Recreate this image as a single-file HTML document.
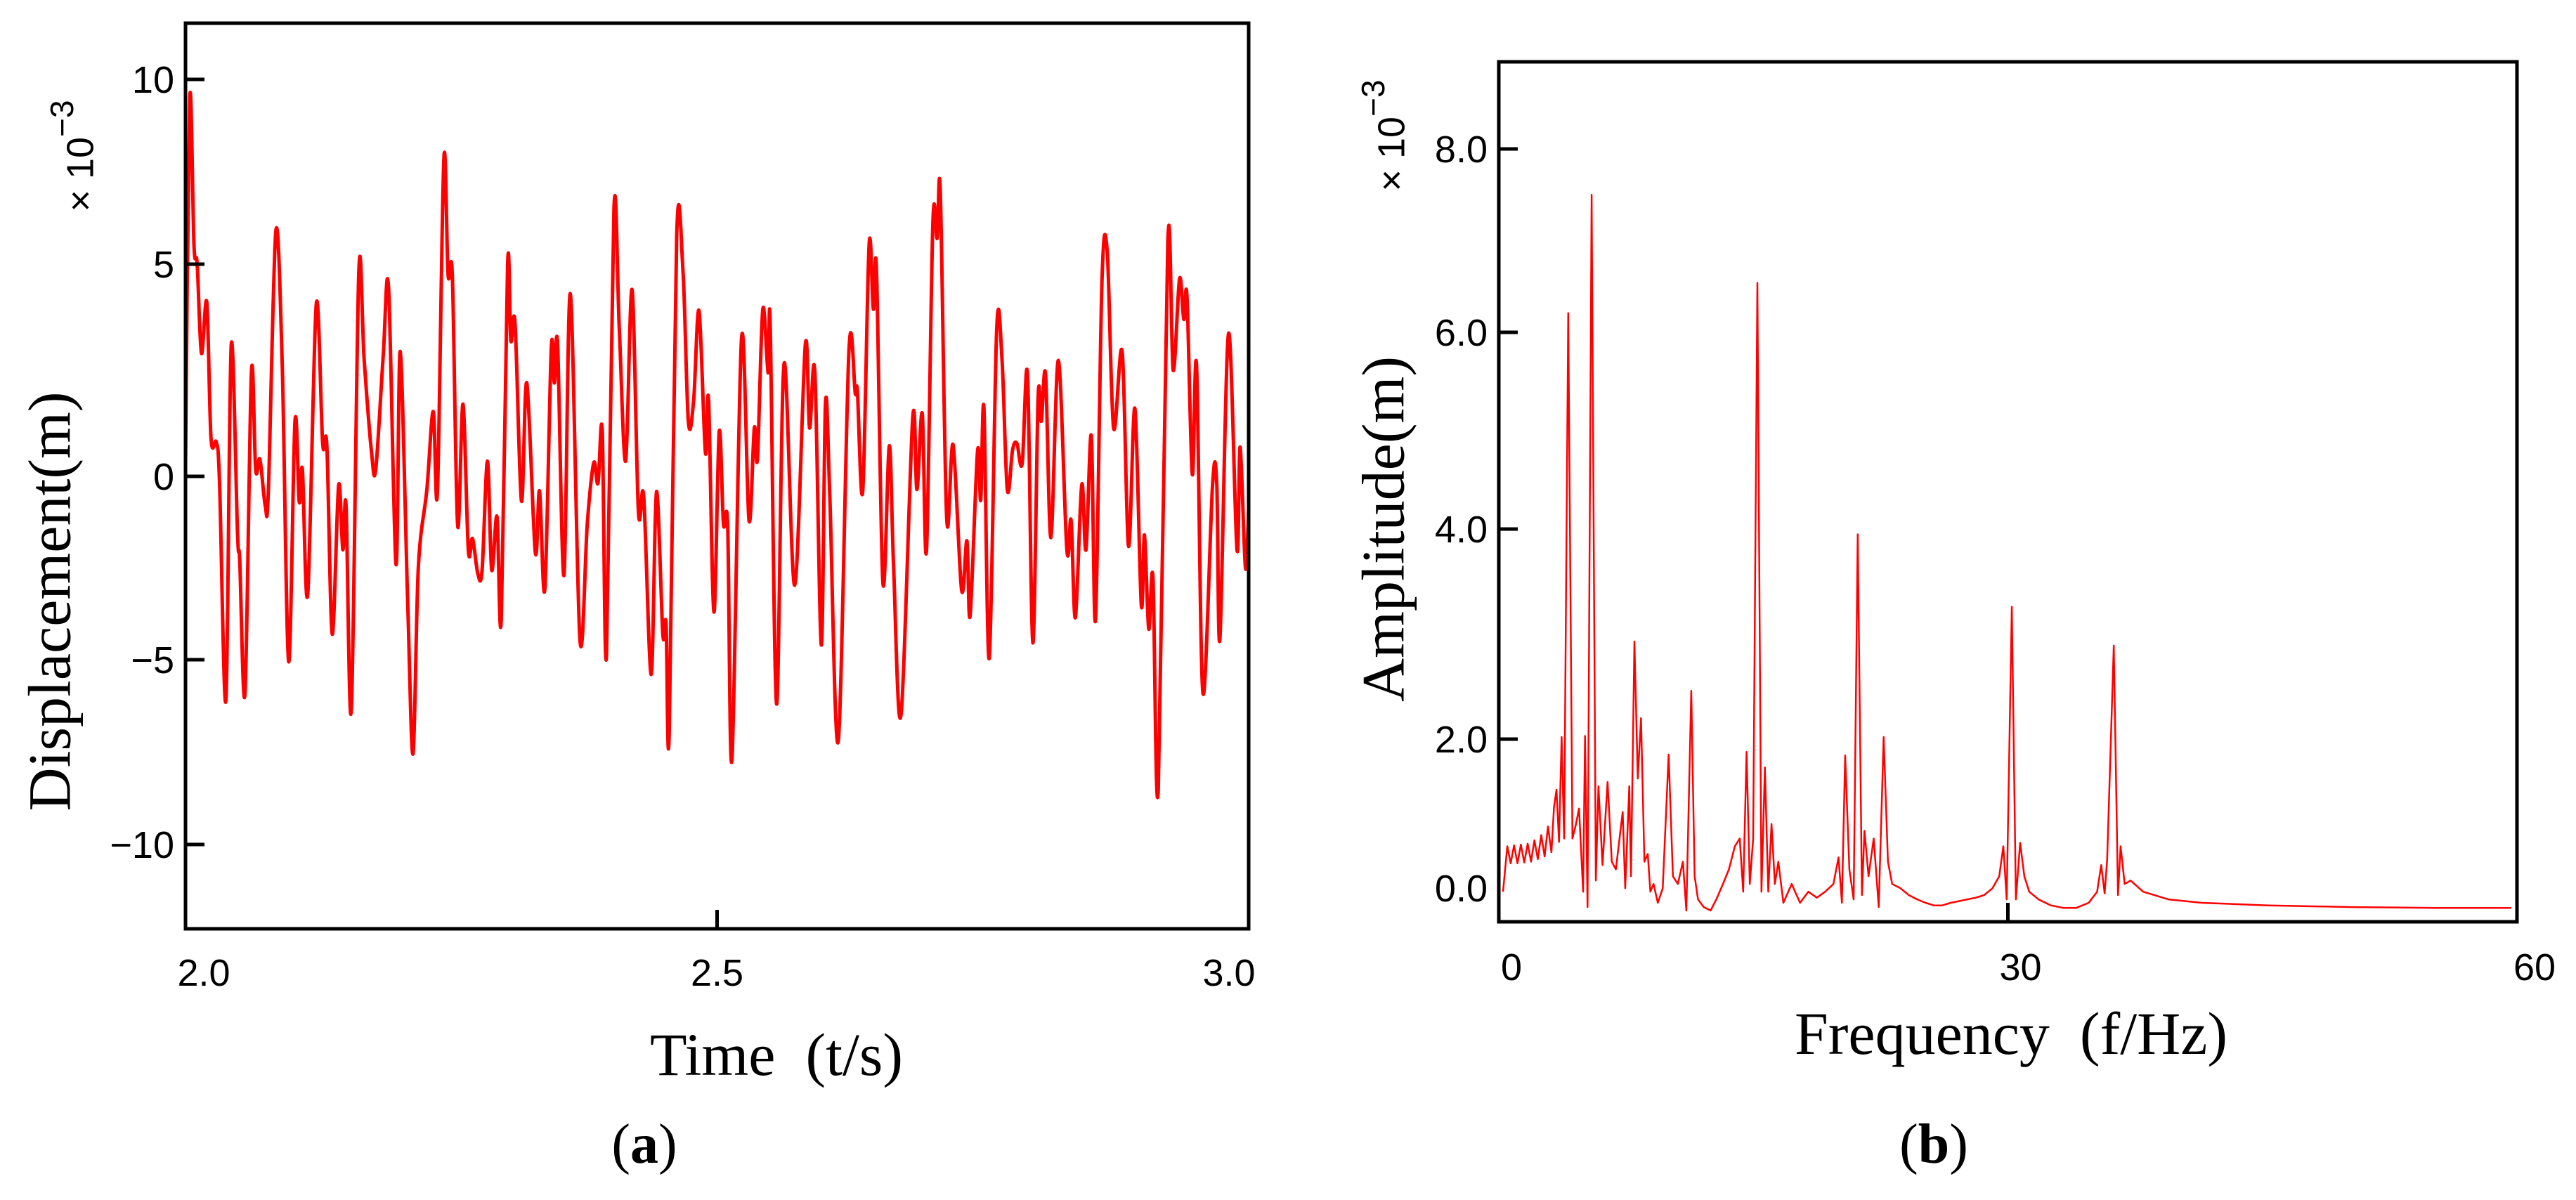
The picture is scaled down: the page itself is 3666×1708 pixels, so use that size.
<!DOCTYPE html>
<html><head><meta charset="utf-8">
<style>
html,body{margin:0;padding:0;background:#fff;}
svg{display:block;}
.tick{font-family:"Liberation Sans",sans-serif;font-size:54px;fill:#000;}
.title{font-family:"Liberation Serif",serif;font-size:86px;fill:#000;white-space:pre;}
.cap{font-family:"Liberation Serif",serif;font-size:80px;fill:#000;}
.mult{font-family:"Liberation Sans",sans-serif;font-size:54px;fill:#000;}
</style></head>
<body>
<svg id="fig" width="3666" height="1708" viewBox="0 0 3666 1708" xmlns="http://www.w3.org/2000/svg">
  <g id="panelA"></g>
  <g id="panelB"></g>
  <text class="title" x="80" y="856" text-anchor="middle" transform="rotate(-90 80 856)" dominant-baseline="middle">Displacement(m)</text>
  <text class="mult" x="118" y="222" text-anchor="middle" transform="rotate(-90 118 222)" dominant-baseline="middle">× 10<tspan dy="-26" font-size="46">−3</tspan></text>
  <text class="title" x="1105" y="1530" text-anchor="middle">Time&#160;&#160;(t/s)</text>
  <text class="cap" x="917" y="1655" text-anchor="middle">(<tspan font-weight="bold">a</tspan>)</text>
  <text class="title" x="1978" y="753" text-anchor="middle" transform="rotate(-90 1978 753)" dominant-baseline="middle">Amplitude(m)</text>
  <text class="mult" x="1984" y="193" text-anchor="middle" transform="rotate(-90 1984 193)" dominant-baseline="middle">× 10<tspan dy="-26" font-size="46">−3</tspan></text>
  <text class="title" x="2862" y="1500" text-anchor="middle">Frequency&#160;&#160;(f/Hz)</text>
  <text class="cap" x="2752" y="1655" text-anchor="middle">(<tspan font-weight="bold">b</tspan>)</text>
</svg>
<script>
// ---- Panel (a) data ----
const timeValues = [2.000,2.004,2.008,2.011,2.015,2.020,2.024,2.029,2.032,2.038,2.043,2.049,2.051,2.056,2.062,2.066,2.070,2.075,2.078,2.085,2.091,2.097,2.103,2.107,2.110,2.115,2.123,2.129,2.133,2.138,2.144,2.148,2.151,2.156,2.163,2.168,2.175,2.179,2.186,2.191,2.198,2.202,2.209,2.214,2.219,2.227,2.233,2.237,2.243,2.247,2.251,2.256,2.261,2.266,2.270,2.275,2.279,2.284,2.288,2.293,2.297,2.303,2.306,2.310,2.316,2.321,2.329,2.333,2.338,2.344,2.347,2.350,2.356,2.362,2.371,2.378,2.384,2.388,2.392,2.396,2.403,2.408,2.414,2.420,2.426,2.431,2.438,2.443,2.449,2.452,2.455,2.462,2.468,2.473,2.478,2.483,2.489,2.492,2.497,2.502,2.506,2.510,2.514,2.523,2.530,2.535,2.538,2.543,2.548,2.550,2.556,2.563,2.573,2.583,2.587,2.592,2.598,2.602,2.606,2.614,2.624,2.630,2.632,2.637,2.643,2.647,2.650,2.656,2.662,2.666,2.673,2.684,2.688,2.693,2.697,2.703,2.707,2.710,2.716,2.722,2.730,2.735,2.738,2.745,2.748,2.751,2.756,2.763,2.768,2.773,2.778,2.782,2.787,2.792,2.797,2.802,2.805,2.809,2.814,2.821,2.829,2.833,2.837,2.843,2.847,2.852,2.856,2.862,2.867,2.873,2.881,2.887,2.893,2.899,2.902,2.906,2.910,2.915,2.924,2.929,2.935,2.939,2.942,2.947,2.951,2.957,2.966,2.970,2.973,2.981,2.989,2.992,2.997,3.000];
const displacementValues = [0.3,9.5,5.5,5.0,2.9,4.1,0.9,0.8,-0.15,-6.1,3.1,-1.6,-2.3,-5.9,2.45,0.15,0.4,-0.8,-0.35,5.9,2.6,-5.05,1.3,-0.7,0.15,-3.2,4.06,0.78,0.7,-4.3,-0.25,-2.0,-0.8,-6.35,4.8,2.76,0.56,0.18,2.85,4.44,-2.4,2.94,-3.43,-7.55,-2.5,-0.36,1.53,-0.4,7.86,4.75,4.7,-1.34,1.7,-2.0,-1.7,-2.66,-2.55,0.36,-2.55,-1.1,-3.9,5.0,3.2,3.6,-0.67,2.2,-2.07,-0.4,-3.07,3.0,2.2,3.1,-2.7,4.3,-4.45,-1.26,0.32,-0.19,1.08,-4.9,6.5,3.5,0.36,4.4,-0.94,-0.56,-5.4,-0.42,-4.3,-4.0,-7.0,5.75,4.8,1.3,1.8,3.9,0.56,1.8,-3.7,1.05,-1.3,-1.36,-7.7,3.25,-1.2,1.14,0.42,3.94,2.44,3.57,-6.2,2.65,-2.97,3.1,1.14,2.44,-4.6,1.73,-0.52,-7.2,2.94,1.95,2.0,-0.4,5.54,3.94,4.84,-2.9,0.72,-2.45,-6.5,1.37,-0.36,1.48,-2.0,6.12,5.7,6.95,-1.15,0.74,-3.1,-1.76,-3.8,0.6,-0.65,1.6,-4.96,3.45,2.76,-0.36,0.63,0.78,0.3,2.4,-4.54,1.86,1.3,2.4,-1.67,2.73,-2.0,-1.2,-3.85,-0.23,-2.0,0.96,-3.9,4.57,5.33,1.14,2.94,-1.9,1.6,-3.5,-1.6,-4.16,-2.76,-8.5,5.64,2.5,4.66,3.7,4.24,0.05,2.6,-5.9,-0.25,-0.2,-4.43,3.36,-2.0,0.69,-2.5,-0.9];
const aYTicks = [10,5,0,-5,-10];
const aYTickLabels = ["10","5","0","\u22125","\u221210"];
const aXTicks = [2.0,2.5,3.0];
const aXTickLabels = ["2.0","2.5","3.0"];

// ---- Panel (b) data ----
const freqValues = [0.25,0.5,0.7,0.9,1.1,1.3,1.5,1.7,1.9,2.1,2.3,2.5,2.7,2.9,3.1,3.25,3.4,3.55,3.7,3.85,4.09,4.34,4.54,4.73,4.97,5.08,5.23,5.47,5.72,5.87,6.11,6.41,6.66,6.9,7.3,7.45,7.69,7.79,7.99,8.19,8.38,8.58,8.78,8.93,9.12,9.37,9.66,10.01,10.26,10.55,10.85,11.05,11.34,11.54,11.74,12.08,12.48,12.82,13.21,13.56,13.91,14.2,14.4,14.6,14.79,14.99,15.24,15.48,15.68,15.88,16.07,16.27,16.47,16.77,17.26,17.75,18.24,18.74,19.23,19.72,20.02,20.22,20.41,20.66,20.91,21.15,21.4,21.55,21.79,22.09,22.39,22.68,22.93,23.18,23.67,24.16,24.65,25.15,25.64,26.13,26.63,27.12,27.61,28.11,28.6,29.09,29.49,29.73,29.93,30.23,30.47,30.72,30.97,31.26,31.8,32.54,33.28,34.02,34.76,35.26,35.5,35.7,35.85,36.24,36.49,36.64,36.88,37.23,37.97,39.45,41.42,45.36,50.3,55.2,59.66];
const amplitudeValues = [0.22,0.75,0.55,0.76,0.55,0.77,0.56,0.78,0.57,0.82,0.6,0.88,0.63,0.98,0.68,1.2,1.41,0.8,2.02,0.84,6.21,0.84,1.0,1.19,0.22,2.03,0.04,7.5,0.35,1.45,0.53,1.5,0.57,0.48,1.15,0.26,1.45,0.4,2.93,1.54,2.2,0.57,0.66,0.22,0.31,0.09,0.26,1.82,0.4,0.31,0.57,0.0,2.46,0.4,0.13,0.04,0.0,0.13,0.31,0.48,0.75,0.84,0.22,1.85,0.31,0.84,6.54,0.22,1.67,0.22,1.01,0.31,0.57,0.09,0.31,0.09,0.22,0.15,0.22,0.31,0.62,0.09,1.81,0.48,0.13,3.95,0.18,0.93,0.4,0.84,0.04,2.02,0.57,0.31,0.26,0.18,0.13,0.09,0.06,0.06,0.09,0.11,0.13,0.15,0.18,0.26,0.4,0.75,0.13,3.26,0.13,0.79,0.4,0.22,0.13,0.06,0.03,0.03,0.09,0.22,0.53,0.2,0.6,2.89,0.18,0.75,0.31,0.35,0.22,0.13,0.09,0.06,0.04,0.03,0.03];
const bYTicks = [0,2,4,6,8];
const bYTickLabels = ["0.0","2.0","4.0","6.0","8.0"];
const bXTicks = [0,30,60];
const bXTickLabels = ["0","30","60"];

const NS = "http://www.w3.org/2000/svg";
function mk(tag, attrs, parent){const e=document.createElementNS(NS,tag);for(const k in attrs)e.setAttribute(k,attrs[k]);parent.appendChild(e);return e;}
function piecewise(v, vals, px){
  const idx=vals.map((x,i)=>i).sort((a,b)=>vals[a]-vals[b]);
  const V=idx.map(i=>vals[i]), P=idx.map(i=>px[i]);
  let i=0; if(v<=V[0]) i=0; else if(v>=V[V.length-1]) i=V.length-2; else {while(v>V[i+1]) i++;}
  return P[i]+(v-V[i])*(P[i+1]-P[i])/(V[i+1]-V[i]);
}

const A={l:264,r:1777,t:33,b:1322};
const aTickPx=[113,376,678,939,1202];
function ax(t){return A.l+(t-2.0)/(3.0-2.0)*(A.r-A.l);}
function ay(v){return piecewise(v,aYTicks,aTickPx);}
const B={l:2133,r:3582,t:88,b:1312};
const bTickPx=[1296,1052,753,473,212];
function bx(f){return B.l+f/60*(B.r-B.l);}
function by(v){return piecewise(v,bYTicks,bTickPx);}

function catmull(pts){
  let d="M"+pts[0][0].toFixed(1)+","+pts[0][1].toFixed(1);
  for(let i=0;i<pts.length-1;i++){
    const p0=pts[Math.max(i-1,0)],p1=pts[i],p2=pts[i+1],p3=pts[Math.min(i+2,pts.length-1)];
    const c1=[p1[0]+(p2[0]-p0[0])/6,p1[1]+(p2[1]-p0[1])/6];
    const c2=[p2[0]-(p3[0]-p1[0])/6,p2[1]-(p3[1]-p1[1])/6];
    d+=" C"+c1[0].toFixed(1)+","+c1[1].toFixed(1)+" "+c2[0].toFixed(1)+","+c2[1].toFixed(1)+" "+p2[0].toFixed(1)+","+p2[1].toFixed(1);
  }
  return d;
}

const gA=document.getElementById('panelA');
const gB=document.getElementById('panelB');

const clipA=mk('clipPath',{id:'clipA'},gA);
mk('rect',{x:A.l,y:A.t,width:A.r-A.l,height:A.b-A.t},clipA);
const ptsA=timeValues.map((t,i)=>[ax(t),ay(displacementValues[i])]);
const lineA=mk('path',{d:catmull(ptsA),fill:'none',stroke:'#ff0000','stroke-width':5,'stroke-linejoin':'round','clip-path':'url(#clipA)'},gA);



const frameA=mk('rect',{x:A.l,y:A.t,width:A.r-A.l,height:A.b-A.t,fill:'none',stroke:'#000','stroke-width':5},gA);


aYTicks.forEach((v,i)=>{
  const y=ay(v);
  const tk=mk('line',{x1:A.l,x2:A.l+27,y1:y,y2:y,stroke:'#000','stroke-width':5},gA);
  
  
  const lb=mk('text',{class:'tick',x:A.l-16,y:y+19,'text-anchor':'end'},gA);
  lb.textContent=aYTickLabels[i];
  
  
});
aXTicks.forEach((v,i)=>{
  const x=ax(v);
  if(i>0&&i<aXTicks.length-1){
    const tk=mk('line',{x1:x,x2:x,y1:A.b,y2:A.b-27,stroke:'#000','stroke-width':5},gA);
    
    
  }
  const off=(i===0)?26:(i===aXTicks.length-1?-28:0);
  const lb=mk('text',{class:'tick',x:x+off,y:1403,'text-anchor':'middle'},gA);
  lb.textContent=aXTickLabels[i];
  
  
});

const clipB=mk('clipPath',{id:'clipB'},gB);
mk('rect',{x:B.l,y:B.t,width:B.r-B.l,height:B.b-B.t},clipB);
const ptsB=freqValues.map((f,i)=>[bx(f),by(amplitudeValues[i])]);
const lineB=mk('polyline',{points:ptsB.map(p=>p[0].toFixed(1)+","+p[1].toFixed(1)).join(" "),fill:'none',stroke:'#ff0000','stroke-width':2.5,'stroke-linejoin':'round','clip-path':'url(#clipB)'},gB);



const frameB=mk('rect',{x:B.l,y:B.t,width:B.r-B.l,height:B.b-B.t,fill:'none',stroke:'#000','stroke-width':5},gB);


bYTicks.forEach((v,i)=>{
  const y=by(v);
  if(v!==0){
    const tk=mk('line',{x1:B.l,x2:B.l+27,y1:y,y2:y,stroke:'#000','stroke-width':5},gB);
    
    
  }
  const lb=mk('text',{class:'tick',x:B.l-16,y:(v===0?y-13:y+19),'text-anchor':'end'},gB);
  lb.textContent=bYTickLabels[i];
  
  
});
bXTicks.forEach((v,i)=>{
  const x=bx(v);
  if(i>0&&i<bXTicks.length-1){
    const tk=mk('line',{x1:x,x2:x,y1:B.b,y2:B.b-27,stroke:'#000','stroke-width':5},gB);
    
    
  }
  const lb=mk('text',{class:'tick',x:x+(i===bXTicks.length-1?25:18),y:1395,'text-anchor':'middle'},gB);
  lb.textContent=bXTickLabels[i];
  
  
});
</script>
</body></html>
